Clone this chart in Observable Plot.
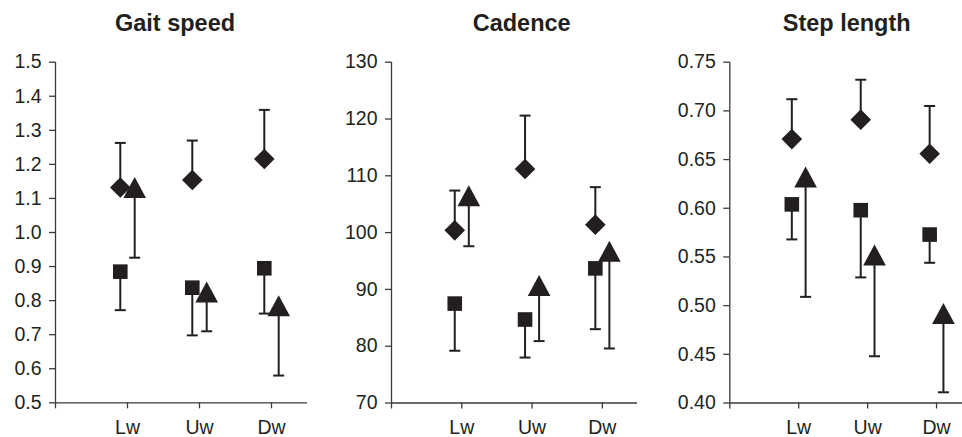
<!DOCTYPE html>
<html>
<head>
<meta charset="utf-8">
<script src="https://cdn.jsdelivr.net/npm/d3@7"></script>
<script src="https://cdn.jsdelivr.net/npm/@observablehq/plot@0.6"></script>
<style>
  html, body { margin: 0; padding: 0; background: #fff; }
  #wrap { position: relative; width: 962px; height: 437px; overflow: hidden; font-family: "Liberation Sans", Arial, sans-serif; }
  .title { position: absolute; top: 12px; font-weight: bold; font-size: 23.5px; line-height: 23.5px; color: #231f20; white-space: nowrap; transform: translateX(-50%); }
  .panel { position: absolute; top: 40px; }
  .panel svg { overflow: hidden; }
</style>
</head>
<body>
<div id="wrap"></div>
<script>
// ---- data ----
const categories = ["Lw", "Uw", "Dw"];
const titles = ["Gait speed", "Cadence", "Step length"];

// Gait speed
const gaitDiamond = [1.132, 1.154, 1.216];
const gaitDiamondUpper = [1.263, 1.270, 1.360];
const gaitSquare = [0.885, 0.838, 0.895];
const gaitSquareLower = [0.772, 0.698, 0.762];
const gaitTriangle = [1.132, 0.825, 0.785];
const gaitTriangleLower = [0.926, 0.710, 0.580];
const gaitTicks = [0.5, 0.6, 0.7, 0.8, 0.9, 1.0, 1.1, 1.2, 1.3, 1.4, 1.5];

// Cadence
const cadDiamond = [100.4, 111.2, 101.4];
const cadDiamondUpper = [107.4, 120.6, 108.0];
const cadSquare = [87.5, 84.7, 93.7];
const cadSquareLower = [79.2, 78.0, 83.0];
const cadTriangle = [106.5, 90.7, 96.7];
const cadTriangleLower = [97.6, 80.9, 79.6];
const cadTicks = [70, 80, 90, 100, 110, 120, 130];

// Step length
const stepDiamond = [0.671, 0.691, 0.656];
const stepDiamondUpper = [0.712, 0.732, 0.705];
const stepSquare = [0.604, 0.598, 0.573];
const stepSquareLower = [0.568, 0.529, 0.544];
const stepTriangle = [0.632, 0.552, 0.492];
const stepTriangleLower = [0.509, 0.448, 0.411];
const stepTicks = [0.40, 0.45, 0.50, 0.55, 0.60, 0.65, 0.70, 0.75];

// ---- layout ----
const ink = "#231f20";
const axisColor = "#3a3a3a";
const font = "Liberation Sans, Arial, sans-serif";
const H = 397;

const panels = [
  {title: titles[0], titleX: 175, left: 0, width: 320, xRange: [55, 307], yRange: [362.3, 21.7],
   ticks: gaitTicks, fmt: d3.format(".1f"),
   diamond: gaitDiamond, diamondErr: gaitDiamondUpper, square: gaitSquare, squareErr: gaitSquareLower,
   triangle: gaitTriangle, triangleErr: gaitTriangleLower},
  {title: titles[1], titleX: 521.7, left: 320, width: 320, xRange: [71, 317], yRange: [362.5, 21.7],
   ticks: cadTicks, fmt: d3.format("d"),
   diamond: cadDiamond, diamondErr: cadDiamondUpper, square: cadSquare, squareErr: cadSquareLower,
   triangle: cadTriangle, triangleErr: cadTriangleLower},
  {title: titles[2], titleX: 846.7, left: 640, width: 322, xRange: [89.3, 330.5], yRange: [362.5, 21.7],
   ticks: stepTicks, fmt: d3.format(".2f"),
   diamond: stepDiamond, diamondErr: stepDiamondUpper, square: stepSquare, squareErr: stepSquareLower,
   triangle: stepTriangle, triangleErr: stepTriangleLower}
];

// custom symbols (r = sqrt(size/PI))
const diamondSym = {draw(ctx, size) { const r = Math.sqrt(size / Math.PI); ctx.moveTo(0, -r); ctx.lineTo(r, 0); ctx.lineTo(0, r); ctx.lineTo(-r, 0); ctx.closePath(); }};
const squareSym = {draw(ctx, size) { const r = Math.sqrt(size / Math.PI); ctx.rect(-r, -r, 2 * r, 2 * r); }};
const triangleSym = {draw(ctx, size) { const r = Math.sqrt(size / Math.PI); const w = r * 1.08, h = r; ctx.moveTo(0, -h); ctx.lineTo(w, h); ctx.lineTo(-w, h); ctx.closePath(); }};
const capSym = {draw(ctx, size) { const r = Math.sqrt(size / Math.PI); ctx.moveTo(-r, 0); ctx.lineTo(r, 0); }};

const wrap = document.getElementById("wrap");

for (const p of panels) {
  const rows = [];
  categories.forEach((c, i) => {
    rows.push({series: "diamond", pos: i + 1 - 0.1, v: p.diamond[i], e: p.diamondErr[i]});
    rows.push({series: "square", pos: i + 1 - 0.1, v: p.square[i], e: p.squareErr[i]});
    rows.push({series: "triangle", pos: i + 1 + 0.1, v: p.triangle[i], e: p.triangleErr[i]});
  });
  const ymin = p.ticks[0], ymax = p.ticks[p.ticks.length - 1];
  const by = s => rows.filter(d => d.series === s);

  const chart = Plot.plot({
    width: p.width,
    height: H,
    marginLeft: p.xRange[0],
    marginRight: p.width - p.xRange[1],
    marginTop: p.yRange[1],
    marginBottom: H - p.yRange[0],
    style: {fontFamily: font, color: ink, background: "transparent"},
    x: {domain: [0, 3.5], range: p.xRange, label: null},
    y: {domain: [ymin, ymax], range: p.yRange, label: null},
    marks: [
      Plot.axisY({ticks: p.ticks, tickFormat: p.fmt, tickSize: 6, tickPadding: 8, fontSize: 19.5, stroke: axisColor, strokeWidth: 1.3, fill: ink, label: null}),
      Plot.axisX({ticks: [0, 1, 2, 3], tickFormat: d => d === 0 ? "" : categories[d - 1], tickSize: 6, tickPadding: 11, fontSize: 19.5, stroke: axisColor, strokeWidth: 1.3, fill: ink, label: null}),
      Plot.ruleX([0], {y1: ymin, y2: ymax, stroke: axisColor, strokeWidth: 1.3}),
      Plot.ruleY([ymin], {x1: 0, x2: 3.5, stroke: axisColor, strokeWidth: 1.3}),
      // error bars
      Plot.ruleX(rows, {x: "pos", y1: "v", y2: "e", stroke: ink, strokeWidth: 2}),
      Plot.dot(rows, {x: "pos", y: "e", symbol: capSym, r: 5.5, stroke: ink, strokeWidth: 2, fill: "none"}),
      // markers
      Plot.dot(by("diamond"), {x: "pos", y: "v", symbol: diamondSym, r: 10.3, fill: ink, stroke: "none"}),
      Plot.dot(by("square"), {x: "pos", y: "v", symbol: squareSym, r: 7.3, fill: ink, stroke: "none"}),
      Plot.dot(by("triangle"), {x: "pos", y: "v", symbol: triangleSym, r: 10.5, fill: ink, stroke: "none"})
    ]
  });
  const holder = document.createElement("div");
  holder.className = "panel";
  holder.style.left = p.left + "px";
  holder.appendChild(chart);
  wrap.appendChild(holder);

  const t = document.createElement("div");
  t.className = "title";
  t.style.left = p.titleX + "px";
  t.textContent = p.title;
  wrap.appendChild(t);
}
</script>
</body>
</html>
